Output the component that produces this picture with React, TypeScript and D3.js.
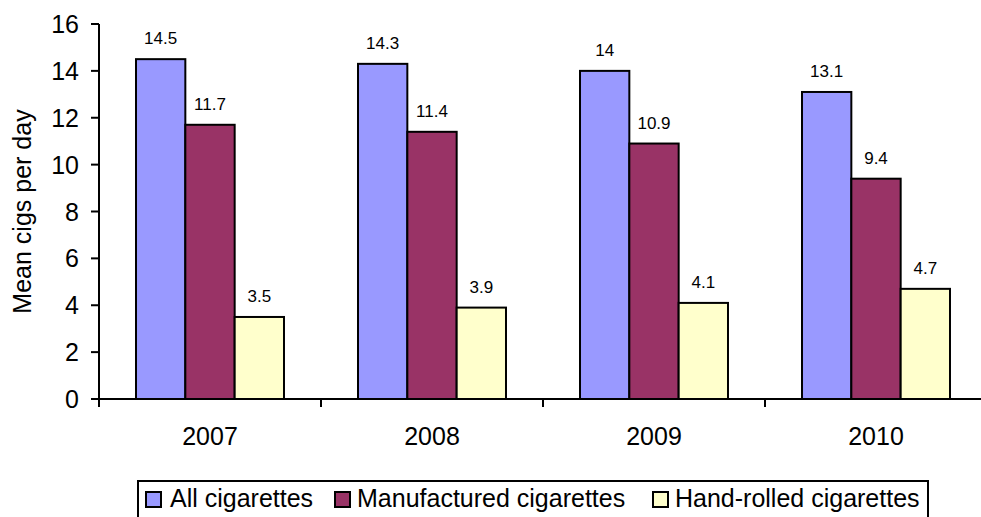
import React from "react";
import * as d3 from "d3";

const years = ["2007", "2008", "2009", "2010"];
const seriesNames = ["All cigarettes", "Manufactured cigarettes", "Hand-rolled cigarettes"];
const allCigs = [14.5, 14.3, 14, 13.1];
const manufactured = [11.7, 11.4, 10.9, 9.4];
const handRolled = [3.5, 3.9, 4.1, 4.7];
const labels = [
  ["14.5", "14.3", "14", "13.1"],
  ["11.7", "11.4", "10.9", "9.4"],
  ["3.5", "3.9", "4.1", "4.7"],
];
const yTicks = [0, 2, 4, 6, 8, 10, 12, 14, 16];
const colors = ["#9999FF", "#993366", "#FFFFCC"];

export default function App() {
  const W = 981, H = 517;
  const left = 99, right = 987, top = 24, bottom = 399;
  const font = "Liberation Sans, Arial, sans-serif";
  const y = d3.scaleLinear().domain([0, 16]).range([bottom, top]);
  const x = d3.scaleBand().domain(years).range([left, right]).padding(0);
  const bw = x.bandwidth();
  const x1 = d3.scaleBand().domain(["0", "1", "2"]).range([bw * 0.1667, bw * 0.8333]).padding(0);
  const series = [allCigs, manufactured, handRolled];

  const legendItems = [
    { name: seriesNames[0], sx: 146, tx: 170 },
    { name: seriesNames[1], sx: 335, tx: 357 },
    { name: seriesNames[2], sx: 653, tx: 675 },
  ];

  return (
    <svg width={W} height={H} style={{ position: "absolute", left: 0, top: 0 }} fontFamily={font}>
      <rect x={0} y={0} width={W} height={H} fill="#fff" />
      {series.map((vals, si) =>
        vals.map((v, i) => {
          const bx = (x(years[i]) as number) + (x1(String(si)) as number);
          return (
            <g key={`${si}-${i}`}>
              <rect x={bx} y={y(v)} width={x1.bandwidth()} height={bottom - y(v)} fill={colors[si]} stroke="#000" strokeWidth={2} />
              <text x={bx + x1.bandwidth() / 2} y={y(v) - 15} textAnchor="middle" fontSize={17} fill="#000">
                {labels[si][i]}
              </text>
            </g>
          );
        })
      )}
      <line x1={left} x2={left} y1={top} y2={bottom} stroke="#000" strokeWidth={2} />
      {yTicks.map((t) => (
        <g key={t}>
          <line x1={left - 8} x2={left} y1={y(t)} y2={y(t)} stroke="#000" strokeWidth={2} />
          <text x={79} y={y(t) + 9} textAnchor="end" fontSize={25} fill="#000">{t}</text>
        </g>
      ))}
      <line x1={left} x2={right} y1={bottom} y2={bottom} stroke="#000" strokeWidth={2} />
      {years.map((yr) => (
        <g key={yr}>
          <line x1={x(yr) as number} x2={x(yr) as number} y1={bottom} y2={bottom + 8} stroke="#000" strokeWidth={2} />
          <text x={(x(yr) as number) + bw / 2} y={bottom + 46} textAnchor="middle" fontSize={25} fill="#000">{yr}</text>
        </g>
      ))}
      <text transform={`translate(31,${(top + bottom) / 2}) rotate(-90)`} textAnchor="middle" fontSize={25} fill="#000">
        Mean cigs per day
      </text>
      <rect x={138} y={481} width={790} height={40} fill="#fff" stroke="#000" strokeWidth={2} />
      {legendItems.map((it, i) => (
        <g key={it.name}>
          <rect x={it.sx} y={492} width={15} height={15} fill={colors[i]} stroke="#000" strokeWidth={2} />
          <text x={it.tx} y={507} fontSize={25} fill="#000">{it.name}</text>
        </g>
      ))}
    </svg>
  );
}
